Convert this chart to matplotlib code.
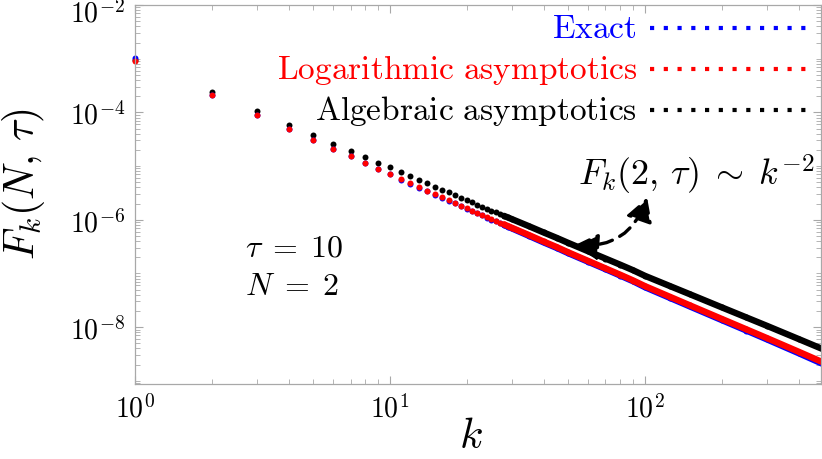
import numpy as np
import matplotlib
matplotlib.use("Agg")
import matplotlib.pyplot as plt
from matplotlib.ticker import FixedLocator, LogLocator, FuncFormatter, NullFormatter
from matplotlib.patches import FancyArrowPatch

plt.rcParams["mathtext.fontset"] = "cm"

# k values: every integer up to 30 (separate dots), then sparser points on the dense tail
k = [1, 2, 3, 4, 5, 6, 7, 8, 9, 10, 11, 12, 13, 14, 15, 16, 17, 18, 19, 20,
     21, 22, 23, 24, 25, 26, 27, 28, 29, 30, 35, 40, 45, 50, 60, 70, 80, 90,
     100, 125, 150, 200, 250, 300, 400, 500]

algebraic = [9.3e-4, 2.36e-4, 1.05e-4, 5.9e-5, 3.75e-5, 2.6e-5, 1.91e-5, 1.46e-5,
             1.16e-5, 9.4e-6, 7.75e-6, 6.5e-6, 5.5e-6, 4.75e-6, 4.14e-6, 3.63e-6,
             3.22e-6, 2.87e-6, 2.58e-6, 2.32e-6, 2.1e-6, 1.92e-6, 1.75e-6, 1.58e-6,
             1.48e-6, 1.37e-6, 1.27e-6, 1.18e-6, 1.1e-6, 1.03e-6, 7.6e-7, 5.8e-7,
             4.6e-7, 3.7e-7, 2.57e-7, 1.89e-7, 1.45e-7, 1.14e-7, 9.0e-8, 5.83e-8,
             4.09e-8, 2.33e-8, 1.51e-8, 1.06e-8, 6.0e-9, 3.85e-9]

logarithmic = [9.2e-4, 2.12e-4, 9.05e-5, 4.91e-5, 3.06e-5, 2.09e-5, 1.51e-5, 1.13e-5,
               8.86e-6, 7.0e-6, 5.7e-6, 4.82e-6, 4.05e-6, 3.47e-6, 3.0e-6, 2.62e-6,
               2.32e-6, 2.06e-6, 1.84e-6, 1.65e-6, 1.48e-6, 1.35e-6, 1.23e-6, 1.11e-6,
               1.03e-6, 9.55e-7, 8.83e-7, 8.18e-7, 7.61e-7, 7.11e-7, 5.2e-7, 3.93e-7,
               3.1e-7, 2.47e-7, 1.7e-7, 1.24e-7, 9.43e-8, 7.36e-8, 5.79e-8, 3.68e-8,
               2.54e-8, 1.42e-8, 9.06e-9, 6.27e-9, 3.48e-9, 2.19e-9]

exact = [1.05e-3, 2.12e-4, 9.05e-5, 4.91e-5, 3.06e-5, 2.09e-5, 1.51e-5, 1.13e-5,
         8.86e-6, 7.0e-6, 5.56e-6, 4.70e-6, 3.95e-6, 3.38e-6, 2.92e-6, 2.55e-6,
         2.26e-6, 2.01e-6, 1.79e-6, 1.61e-6, 1.44e-6, 1.31e-6, 1.20e-6, 1.08e-6,
         1.0e-6, 9.3e-7, 8.6e-7, 7.97e-7, 7.41e-7, 6.92e-7, 5.02e-7, 3.79e-7,
         2.99e-7, 2.38e-7, 1.64e-7, 1.2e-7, 9.1e-8, 7.1e-8, 5.53e-8, 3.51e-8,
         2.42e-8, 1.35e-8, 8.6e-9, 5.93e-9, 3.27e-9, 2.04e-9]

names = ["Exact", "Logarithmic asymptotics", "Algebraic asymptotics"]
colors = {"Exact": "#0000ff", "Logarithmic asymptotics": "#ff0000",
          "Algebraic asymptotics": "black"}
values = {"Exact": exact, "Logarithmic asymptotics": logarithmic,
          "Algebraic asymptotics": algebraic}
draw_order = ["Algebraic asymptotics", "Exact", "Logarithmic asymptotics"]

fig = plt.figure(figsize=(8.22, 4.6), dpi=100)
ax = fig.add_axes([135 / 822, 1 - 385 / 460, 686 / 822, 379 / 460])

k_arr = np.array(k)
tail = k_arr >= 28
for name in draw_order:
    v = np.array(values[name])
    col = colors[name]
    ax.plot(k_arr[tail], v[tail], color=col, lw=4.6, solid_capstyle="round", zorder=2)
    ax.plot(k_arr, v, "o", color=col, ms=4.3, mec="none", zorder=2, clip_on=False)

ax.set_xscale("log")
ax.set_yscale("log")
ax.set_xlim(1, 490)
ax.set_ylim(8.7e-10, 1e-2)

frame = "#a8a8a8"
for s in ax.spines.values():
    s.set_color(frame)
    s.set_linewidth(0.9)

ax.xaxis.set_major_locator(FixedLocator([1, 10, 100]))
ax.xaxis.set_minor_locator(LogLocator(base=10, subs=np.arange(2, 10), numticks=20))
ax.yaxis.set_major_locator(FixedLocator([1e-2, 1e-4, 1e-6, 1e-8]))
ax.yaxis.set_minor_locator(LogLocator(base=10, subs=np.arange(1, 10), numticks=30))
fmt = FuncFormatter(lambda v, p: r"$10^{%d}$" % int(round(np.log10(v))))
# the top label is placed by hand a little lower so it is not cut at the edge
yfmt = FuncFormatter(lambda v, p: "" if v > 5e-3 else r"$10^{%d}$" % int(round(np.log10(v))))
ax.xaxis.set_major_formatter(fmt)
ax.yaxis.set_major_formatter(yfmt)
ax.xaxis.set_minor_formatter(NullFormatter())
ax.yaxis.set_minor_formatter(NullFormatter())
ax.tick_params(which="both", direction="in", top=True, right=True, color=frame,
               labelsize=20, labelcolor="black")
ax.tick_params(which="major", length=6, width=0.8, pad=7)
ax.tick_params(which="minor", length=3.5, width=0.6)
ax.annotate(r"$10^{-2}$", xy=(0, 1), xycoords="axes fraction", xytext=(-7, -6),
            textcoords="offset points", ha="right", va="center", fontsize=20)

ax.set_xlabel(r"$k$", fontsize=31)
ax.xaxis.set_label_coords(0.49, -0.08)
ax.set_ylabel(r"$F_k(N,\,\tau)$", fontsize=30)
ax.yaxis.set_label_coords(-0.128, 0.53)

# legend drawn by hand: label on the left, dotted sample on the right
leg_y = [0.9393, 0.8311, 0.7230]
base_y = [0.915, 0.807, 0.699]
for name, ly, by in zip(names, leg_y, base_y):
    col = colors[name]
    ax.text(0.7318, by, r"$\mathrm{%s}$" % name.replace(" ", r"\ "), color=col,
            fontsize=24, ha="right", va="baseline", transform=ax.transAxes)
    ax.plot([0.7507, 0.9869], [ly, ly], transform=ax.transAxes, color=col,
            lw=3.0, linestyle=(0, (1, 2.3)), dash_capstyle="butt")

ax.text(0.1603, 0.339, r"$\tau \;=\; 10$", fontsize=23, transform=ax.transAxes,
        va="baseline")
ax.text(0.1603, 0.2375, r"$N \;=\; 2$", fontsize=23, transform=ax.transAxes,
        va="baseline")
ax.text(0.6458, 0.525, r"$F_k(2,\,\tau) \;\sim\; k^{-2}$", fontsize=26,
        transform=ax.transAxes, va="baseline")

arr = FancyArrowPatch((0.637, 0.3668), (0.7478, 0.4987), transform=ax.transAxes,
                      arrowstyle="<|-|>,head_length=0.7,head_width=0.4",
                      connectionstyle="arc3,rad=0.4", linestyle=(0, (4, 2.5)),
                      lw=2.4, color="black", mutation_scale=20)
ax.add_patch(arr)

fig.savefig("out.png", dpi=100)
